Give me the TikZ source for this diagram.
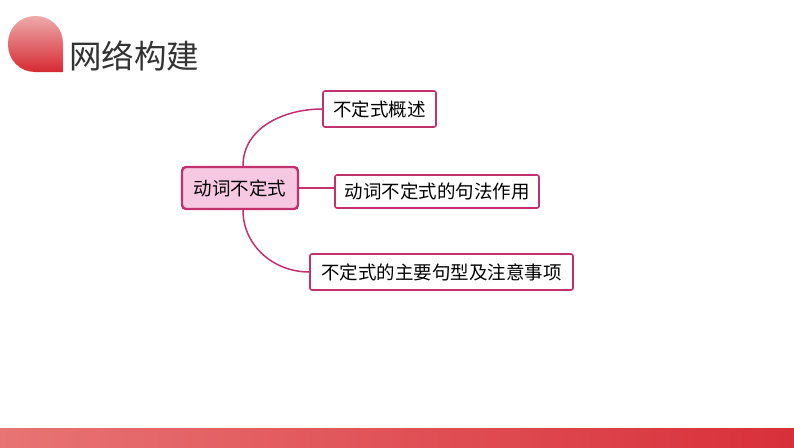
\documentclass[tikz,border=0pt]{standalone}
\usepackage{fontspec}
\newfontfamily\cjk{Noto Sans CJK SC}
\usetikzlibrary{positioning}
\definecolor{rose}{HTML}{C2306E}
\definecolor{pinkfill}{HTML}{F6C8E2}
\definecolor{barL}{HTML}{E87474}
\definecolor{barR}{HTML}{D8303A}
\tikzset{
  branch/.style={draw=rose, line width=1.6pt, rounded corners=2pt, fill=white, inner sep=0pt,
    font=\cjk\fontsize{18.5}{20}\selectfont},
  root/.style={branch, fill=pinkfill, line width=2.4pt, rounded corners=4pt},
  link/.style={draw=rose, line width=1.5pt}
}
\begin{document}
\begin{tikzpicture}[x=1pt,y=-1pt]

	\useasboundingbox (0,0) rectangle (794,447);
	\fill[white] (0,0) rectangle (794,447);

	% title
	\shade[top color={rgb,255:red,238;green,170;blue,172}, bottom color={rgb,255:red,214;green,42;blue,50}]
	  (63,72) [rounded corners=27pt] -- (8,72) -- (8,16) -- (63,16) [sharp corners] -- (63,72) -- cycle;
	\node[anchor=west, text=black!80, font=\cjk\fontsize{32.5}{35}\selectfont, inner sep=0pt] (title) at (69,56) {网络构建};

	% bottom bar
	\shade[left color=barL, right color=barR] (0,428) rectangle (794,447);

	% mind map
	\node[root, minimum width=116, minimum height=42] (dc) at (240,188) {动词不定式};

	\foreach \name/\x/\y/\w/\h/\txt in {b1/379.5/109/113/36/不定式概述, b2/437/191.5/204/33/动词不定式的句法作用, b3/441.5/272/263/36/不定式的主要句型及注意事项} {
		\node[branch, minimum width=\w, minimum height=\h] (\name) at (\x,\y) {\txt};
	}

	\draw[link] (dc.north) ++(3,0) to[out=90,in=180] (b1.west);
	\draw[link] (dc.east) -- (b2.west |- dc.east);
	\draw[link] (dc.south) ++(3,0) to[out=-90,in=180] (b3.west);

\end{tikzpicture}
\end{document}
